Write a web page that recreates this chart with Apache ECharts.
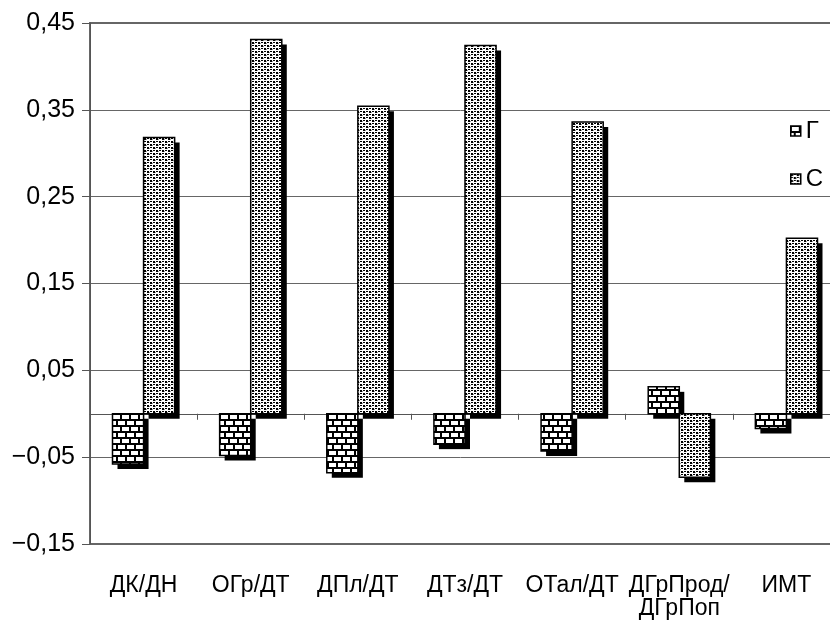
<!DOCTYPE html>
<html>
<head>
<meta charset="utf-8">
<script src="https://cdn.jsdelivr.net/npm/echarts@6/dist/echarts.min.js"></script>
<style>
html,body{margin:0;padding:0;background:#fff;}
#chart{width:830px;height:628px;}
</style>
</head>
<body>
<div id="chart"></div>
<script>
const categories = ['ДК/ДН', 'ОГр/ДТ', 'ДПл/ДТ', 'ДТз/ДТ', 'ОТал/ДТ', 'ДГрПрод/\nДГрПоп', 'ИМТ'];
const seriesNames = ['Г', 'С'];
const valuesG = [-0.058, -0.048, -0.068, -0.035, -0.043, 0.031, -0.017];
const valuesS = [0.318, 0.431, 0.354, 0.424, 0.336, -0.073, 0.202];
const yMin = -0.15, yMax = 0.45, yStep = 0.1;

function brickPattern() {
  const c = document.createElement('canvas');
  c.width = 18; c.height = 12;
  const g = c.getContext('2d');
  g.fillStyle = '#000'; g.fillRect(0, 0, 18, 12);
  g.fillStyle = '#fff';
  g.fillRect(1, 1, 7, 4); g.fillRect(10, 1, 7, 4);
  g.fillRect(5, 7, 7, 4); g.fillRect(14, 7, 4, 4); g.fillRect(0, 7, 3, 4);
  return c;
}
function dotPattern() {
  const c = document.createElement('canvas');
  c.width = 6; c.height = 6;
  const g = c.getContext('2d');
  g.fillStyle = '#fff'; g.fillRect(0, 0, 6, 6);
  g.fillStyle = '#000';
  g.fillRect(0, 0, 2, 2); g.fillRect(3, 3, 2, 2);
  g.fillRect(3, 0, 2, 1); g.fillRect(0, 3, 2, 1);
  g.fillStyle = '#999';
  g.fillRect(2, 1, 1, 1); g.fillRect(5, 4, 1, 1);
  return c;
}
const patterns = [
  {image: brickPattern(), repeat: 'repeat'},
  {image: dotPattern(), repeat: 'repeat'}
];

const chart = echarts.init(document.getElementById('chart'), null, {renderer: 'canvas'});
const font = '"Liberation Sans", Arial, sans-serif';

function makeRender(side, fill) {
  return function (params, api) {
    const idx = api.value(0), val = api.value(1);
    const base = api.coord([idx, 0]);
    const end = api.coord([idx, val]);
    const band = api.size([1, 0])[0];
    const w = band * 0.29;
    const x = side === 0 ? base[0] - w : base[0];
    const y = Math.min(base[1], end[1]);
    const h = Math.abs(end[1] - base[1]);
    return {
      type: 'group',
      children: [
        {type: 'rect', shape: {x: x + 5, y: y + 5, width: w, height: h}, style: {fill: '#000'}},
        {type: 'rect', shape: {x: x, y: y, width: w, height: h}, style: {fill: fill, stroke: '#000', lineWidth: 1.5}}
      ]
    };
  };
}

chart.setOption({
  animation: false,
  backgroundColor: '#fff',
  grid: {left: 90, top: 23, width: 750, height: 521, outerBoundsMode: 'none', containLabel: false,
         show: true, borderColor: '#666', borderWidth: 2, backgroundColor: 'transparent'},
  legend: {
    left: 790, top: 119, padding: 0, orient: 'vertical', itemWidth: 10, itemHeight: 10, itemGap: 24, icon: 'rect',
    textStyle: {fontFamily: font, fontSize: 24, lineHeight: 24, color: '#000'},
    itemStyle: {borderColor: '#000', borderWidth: 1.5},
    data: seriesNames
  },
  xAxis: [
    {
      type: 'category', data: categories, position: 'bottom',
      axisLine: {show: false, onZero: false}, axisTick: {show: false},
      axisLabel: {fontFamily: font, fontSize: 23, color: '#000', margin: 30, lineHeight: 23, interval: 0}
    },
    {
      type: 'category', data: categories, position: 'bottom',
      axisLine: {show: true, onZero: true, lineStyle: {color: '#555', width: 1}},
      axisTick: {show: true, length: 6, lineStyle: {color: '#555'}},
      axisLabel: {show: false}
    }
  ],
  yAxis: {
    type: 'value', min: yMin, max: yMax, interval: yStep,
    axisLine: {show: true, lineStyle: {color: '#555', width: 1}},
    axisTick: {show: true, length: 8, lineStyle: {color: '#555'}},
    splitLine: {show: true, lineStyle: {color: '#666', width: 1}},
    axisLabel: {
      fontFamily: font, fontSize: 25, color: '#000', margin: 15,
      formatter: v => v.toFixed(2).replace('.', ',').replace('-', '\u2212')
    }
  },
  series: [
    {
      name: seriesNames[0], type: 'custom', xAxisIndex: 0, yAxisIndex: 0,
      data: valuesG.map((v, i) => [i, v]), encode: {x: 0, y: 1},
      itemStyle: {color: patterns[0], borderColor: '#000'},
      renderItem: makeRender(0, patterns[0])
    },
    {
      name: seriesNames[1], type: 'custom', xAxisIndex: 0, yAxisIndex: 0,
      data: valuesS.map((v, i) => [i, v]), encode: {x: 0, y: 1},
      itemStyle: {color: patterns[1], borderColor: '#000'},
      renderItem: makeRender(1, patterns[1])
    }
  ]
});
</script>
</body>
</html>
